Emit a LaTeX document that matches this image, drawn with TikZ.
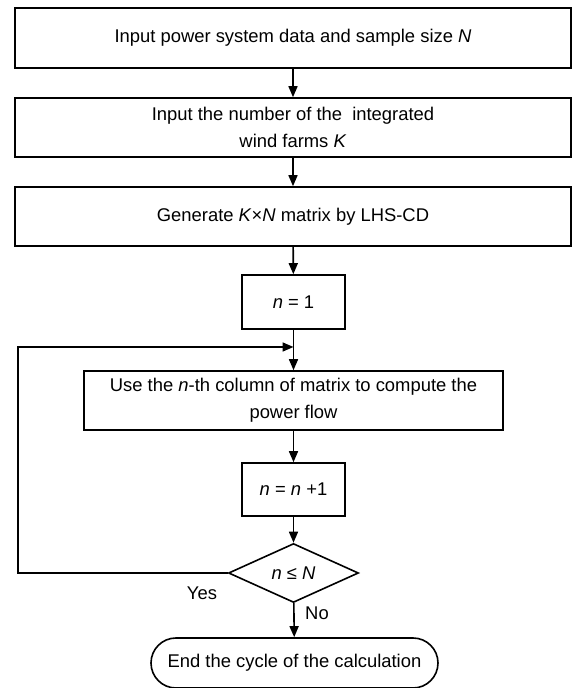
\documentclass[tikz,border=0pt]{standalone}
\usepackage{fontspec}
\setmainfont{Liberation Sans}
\usetikzlibrary{arrows.meta,shapes.geometric}
\begin{document}
\begin{tikzpicture}[x=1pt,y=1pt,
  box/.style={draw, line width=1.6pt, inner sep=0pt, align=center, font=\fontsize{18.4}{27}\selectfont},
  arr/.style={line width=1.6pt, -{Triangle[length=11pt,width=9pt]}},
  lbl/.style={font=\fontsize{18.4}{22}\selectfont, inner sep=0pt}]
\useasboundingbox (0,0) rectangle (573,688);
\node[box, minimum width=556pt, minimum height=60pt] (b1) at (293,650) {Input power system data and sample size \textit{N}};
\node[box, minimum width=556pt, minimum height=59pt] (b2) at (293,560.5) {Input the number of the\ \ integrated\\wind farms \textit{K}};
\node[box, minimum width=556pt, minimum height=59pt] (b3) at (293,471.5) {Generate \textit{K}×\textit{N} matrix by LHS-CD};
\node[box, minimum width=103pt, minimum height=54pt] (n1) at (293.5,386) {\textit{n} = 1};
\node[box, minimum width=419pt, minimum height=59pt] (use) at (293.5,287.5) {Use the \textit{n}-th column of matrix to compute the\\power flow};
\node[box, minimum width=103pt, minimum height=53pt] (n2) at (293.5,198.5) {\textit{n} = \textit{n} +1};
\node[box, diamond, aspect=2.2, minimum width=130pt, minimum height=59pt] (dec) at (293.5,115) {\textit{n} ≤ \textit{N}};
\node[box, rounded corners=25pt, minimum width=287pt, minimum height=50pt] (end) at (294.5,25) {End the cycle of the calculation};
\node[lbl] (yes) at (202,95) {Yes};
\node[lbl] (no) at (317,75) {No};
\coordinate (lc) at (18,341);
\coordinate (join) at (n1.south |- lc);
\draw[arr] (b1) -- (b2);
\draw[arr] (b2) -- (b3);
\draw[arr] (b3) -- (n1);
\draw[arr] (n1) -- (use);
\draw[arr] (use) -- (n2);
\draw[arr] (n2) -- (dec);
\draw[arr] (dec) -- (end);
\draw[arr] (dec.west) -| (lc) -- (join);
\end{tikzpicture}
\end{document}
